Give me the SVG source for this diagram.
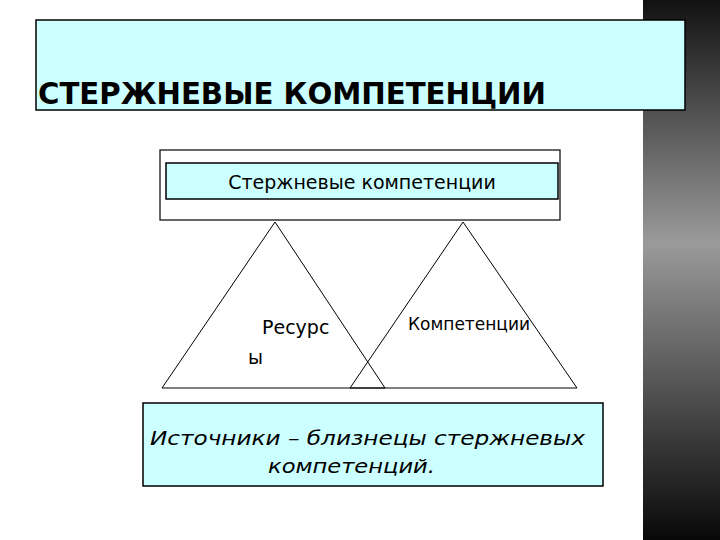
<svg xmlns="http://www.w3.org/2000/svg" width="720" height="540" viewBox="0 0 720 540">
<defs>
<linearGradient id="dark" x1="0" y1="0" x2="0" y2="1">
<stop offset="0" stop-color="#111"/><stop offset="0.45" stop-color="#9a9a9a"/><stop offset="1" stop-color="#080808"/>
</linearGradient>
<style>
.box{fill:#ccffff;stroke:#000;stroke-width:1.5}
.t{font-family:"Comic Sans MS","DejaVu Sans",sans-serif;fill:#000}
.tri{fill:none;stroke:#000;stroke-width:1}
</style>
</defs>
<rect width="720" height="540" fill="#fff"/>
<rect x="643" y="0" width="77" height="540" fill="url(#dark)"/>
<g id="title">
<rect class="box" x="36" y="20" width="649" height="90"/>
<text class="t" x="38" y="104" font-size="31" font-weight="bold" textLength="508" lengthAdjust="spacingAndGlyphs">СТЕРЖНЕВЫЕ КОМПЕТЕНЦИИ</text>
</g>
<g id="top">
<rect x="160" y="150" width="400" height="70" fill="#fff" stroke="#000" stroke-width="1.2"/>
<rect class="box" x="166" y="163" width="392" height="36"/>
<text class="t" x="362" y="189" font-size="19" text-anchor="middle">Стержневые компетенции</text>
</g>
<g id="connectors">
<polygon class="tri" points="275,222 162,388 385,388"/>
<polygon class="tri" points="463,222 350,388 577,388"/>
</g>
<g id="resources">
<text class="t" x="262" y="334" font-size="19">Ресурс</text>
<text class="t" x="248" y="364" font-size="19">ы</text>
</g>
<g id="competencies">
<text class="t" x="408" y="330" font-size="17">Компетенции</text>
</g>
<g id="bottom">
<rect class="box" x="143" y="403" width="460" height="83"/>
<text class="t" x="150" y="445" font-size="20" font-style="italic" textLength="435" lengthAdjust="spacingAndGlyphs">Источники – близнецы стержневых</text>
<text class="t" x="268" y="473" font-size="20" font-style="italic" textLength="167" lengthAdjust="spacingAndGlyphs">компетенций.</text>
</g>
</svg>
